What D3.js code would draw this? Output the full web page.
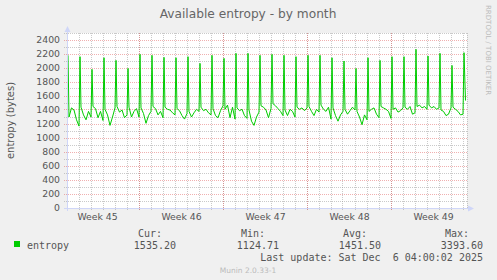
<!DOCTYPE html>
<html>
<head>
<meta charset="utf-8">
<script src="https://cdn.jsdelivr.net/npm/d3@7"></script>
<style>
body { margin: 0; background: #f0f0f0; }
svg { display: block; }
text { font-family: "DejaVu Sans", sans-serif; fill: #555; }
.mono { font-family: "DejaVu Sans Mono", monospace; white-space: pre; }
</style>
</head>
<body>
<div id="grafico"></div>
<script>
// Datos (entropia disponible, un pico diario + valores base)
var spikes = [2181, 2162, 1980, 2147, 2109, 1994, 2195, 2181, 2152, 2147, 2162, 2066,
              2181, 2138, 2209, 2209, 2181, 2195, 2181, 2162, 2181, 2181, 2147, 2100,
              1994, 2147, 2109, 2162, 2162, 2267, 2171, 2209, 2037, 2219];

// valores a las 4h, 9h, 14h, 19h y 24h de cada dia
var baseline = [
    [1300, 1430, 1400, 1260, 1170], [1440, 1330, 1260, 1380, 1300], [1450, 1420, 1290, 1380, 1250],
    [1410, 1330, 1180, 1300, 1430], [1450, 1370, 1400, 1290, 1330], [1440, 1300, 1380, 1420, 1300],
    [1430, 1350, 1210, 1320, 1380], [1450, 1420, 1330, 1380, 1290], [1440, 1410, 1400, 1360, 1330],
    [1420, 1390, 1320, 1270, 1350], [1380, 1300, 1360, 1410, 1380], [1440, 1390, 1410, 1360, 1330],
    [1420, 1320, 1290, 1390, 1460], [1410, 1470, 1290, 1440, 1270], [1430, 1390, 1410, 1320, 1280],
    [1400, 1240, 1180, 1300, 1370], [1460, 1440, 1400, 1290, 1420], [1490, 1460, 1420, 1380, 1320],
    [1400, 1320, 1410, 1380, 1300], [1440, 1410, 1430, 1390, 1430], [1450, 1380, 1320, 1410, 1370],
    [1470, 1410, 1380, 1440, 1270], [1430, 1320, 1240, 1330, 1380], [1410, 1340, 1390, 1440, 1400],
    [1380, 1300, 1190, 1330, 1260], [1380, 1410, 1430, 1340, 1290], [1450, 1430, 1410, 1380, 1280],
    [1410, 1430, 1370, 1390, 1430], [1440, 1410, 1450, 1340, 1360], [1450, 1470, 1430, 1450, 1410],
    [1470, 1430, 1450, 1410, 1430], [1400, 1380, 1320, 1340, 1430], [1440, 1410, 1380, 1330, 1340]
];
var baseHours = [4, 9, 14, 19, 24];
var lastValue = 1535.2;

var yTicks = [0, 200, 400, 600, 800, 1000, 1200, 1400, 1600, 1800, 2000, 2200, 2400];
var statLabels = ["Cur:", "Min:", "Avg:", "Max:"];
var statValues = ["1535.20", "1124.71", "1451.50", "3393.60"];
var seriesName = "entropy";
var lastUpdate = "Last update: Sat Dec  6 04:00:02 2025";

var width = 497, height = 280;
var pLeft = 67, pRight = 467, pTop = 33, pBottom = 208;

var start = new Date(Date.UTC(2025, 10, 4));
var end = new Date(+start + 400 / 12 * 864e5);

var x = d3.scaleUtc().domain([start, end]).range([pLeft, pRight]);
var y = d3.scaleLinear().domain([0, 2500]).range([pBottom, pTop]);

var gridGris = "rgba(150,150,150,0.5)";
var gridRojo = "rgba(222,79,79,0.45)";

function px(v) { return Math.floor(v) + 0.5; }

// Construir la serie
var serie = [];
spikes.forEach(function(s, k) {
    var dia = d3.utcDay.offset(start, k);
    serie.push({ t: d3.utcHour.offset(dia, 2), v: s });
    if (k < baseline.length) {
        baseHours.forEach(function(h, i) {
            serie.push({ t: d3.utcHour.offset(dia, h), v: baseline[k][i] });
        });
    }
});
serie.push({ t: d3.utcHour.offset(d3.utcDay.offset(start, spikes.length - 1), 5), v: lastValue });

var svg = d3.select("#grafico")
    .append("svg")
    .attr("width", width)
    .attr("height", height);

svg.append("rect")
    .attr("x", pLeft).attr("y", pTop)
    .attr("width", pRight - pLeft).attr("height", pBottom - pTop)
    .attr("fill", "#fff");

var grid = svg.append("g").attr("shape-rendering", "crispEdges");

// Rejilla menor horizontal (cada 100)
grid.selectAll(".hmin")
    .data(d3.range(100, 2501, 100).filter(function(v) { return v % 200 !== 0; }))
    .enter().append("line")
    .attr("x1", pLeft - 3).attr("x2", pRight)
    .attr("y1", function(d) { return px(y(d)); })
    .attr("y2", function(d) { return px(y(d)); })
    .attr("stroke", gridGris)
    .attr("stroke-dasharray", "1,1");

// Rejilla menor vertical (cada dia)
var dias = d3.utcDay.range(d3.utcDay.offset(start, 1), end);
grid.selectAll(".vmin")
    .data(dias)
    .enter().append("line")
    .attr("x1", function(d) { return px(x(d)); })
    .attr("x2", function(d) { return px(x(d)); })
    .attr("y1", pTop).attr("y2", pBottom + 3)
    .attr("stroke", gridGris)
    .attr("stroke-dasharray", "1,1");

grid.append("line")
    .attr("x1", px(pRight)).attr("x2", px(pRight))
    .attr("y1", pTop).attr("y2", pBottom)
    .attr("stroke", gridGris)
    .attr("stroke-dasharray", "1,1");

// Rejilla mayor horizontal
grid.selectAll(".hmaj")
    .data(yTicks.filter(function(v) { return v > 0; }))
    .enter().append("line")
    .attr("x1", pLeft - 3).attr("x2", pRight)
    .attr("y1", function(d) { return px(y(d)); })
    .attr("y2", function(d) { return px(y(d)); })
    .attr("stroke", gridRojo)
    .attr("stroke-dasharray", "1,1");

// Rejilla mayor vertical (lunes)
grid.selectAll(".vmaj")
    .data(d3.utcMonday.range(start, end))
    .enter().append("line")
    .attr("x1", function(d) { return px(x(d)); })
    .attr("x2", function(d) { return px(x(d)); })
    .attr("y1", pTop).attr("y2", pBottom + 3)
    .attr("stroke", gridRojo)
    .attr("stroke-dasharray", "1,1");

// Linea de datos
var linea = d3.line()
    .x(function(d) { return x(d.t); })
    .y(function(d) { return y(d.v); });

svg.append("path")
    .datum(serie)
    .attr("d", linea)
    .attr("fill", "none")
    .attr("stroke", "#00cc00")
    .attr("stroke-width", 1);

// Ejes con flechas
var ejes = svg.append("g").attr("shape-rendering", "crispEdges");
ejes.append("line")
    .attr("x1", px(pLeft)).attr("x2", px(pLeft))
    .attr("y1", pBottom + 3).attr("y2", pTop - 4)
    .attr("stroke", "#cfd6f8");
ejes.append("line")
    .attr("x1", pLeft - 3).attr("x2", pRight + 3)
    .attr("y1", px(y(0))).attr("y2", px(y(0)))
    .attr("stroke", "#cfd6f8");
svg.append("path")
    .attr("d", "M" + (px(pLeft) - 3) + "," + (pTop - 1) + "L" + (px(pLeft) + 3) + "," + (pTop - 1) + "L" + px(pLeft) + "," + (pTop - 7) + "Z")
    .attr("fill", "#cfd6f8");
svg.append("path")
    .attr("d", "M" + (pRight + 1) + "," + (px(y(0)) - 3) + "L" + (pRight + 1) + "," + (px(y(0)) + 3) + "L" + (pRight + 7) + "," + px(y(0)) + "Z")
    .attr("fill", "#cfd6f8");

// Etiquetas del eje Y
var ejeY = d3.axisLeft(y).tickValues(yTicks).tickFormat(d3.format("d")).tickSize(0).tickPadding(7);
svg.append("g")
    .attr("transform", "translate(" + pLeft + ",0)")
    .call(ejeY)
    .call(function(g) { g.select(".domain").remove(); })
    .selectAll("text")
    .attr("font-family", "DejaVu Sans")
    .attr("font-size", 9.3)
    .attr("fill", "#555");

// Etiquetas del eje X (semanas, centradas a mitad de semana)
var mitades = d3.utcMonday.range(d3.utcMonday.floor(start), end).map(function(d) {
    return d3.utcHour.offset(d, 84);
});
var ejeX = d3.axisBottom(x).tickValues(mitades).tickFormat(d3.utcFormat("Week %V")).tickSize(0).tickPadding(5);
svg.append("g")
    .attr("transform", "translate(0," + pBottom + ")")
    .call(ejeX)
    .call(function(g) { g.select(".domain").remove(); })
    .selectAll("text")
    .attr("font-family", "DejaVu Sans")
    .attr("font-size", 9.3)
    .attr("fill", "#555");

// Titulo
svg.append("text")
    .attr("x", 248).attr("y", 18)
    .attr("text-anchor", "middle")
    .attr("font-size", 12.2)
    .style("fill", "#666")
    .text("Available entropy - by month");

// Titulo eje Y
svg.append("text")
    .attr("transform", "translate(14," + ((pTop + pBottom) / 2) + ") rotate(-90)")
    .attr("text-anchor", "middle")
    .attr("font-size", 10)
    .text("entropy (bytes)");

// Marca de agua
svg.append("text")
    .attr("transform", "translate(485.5,5) rotate(90)")
    .attr("font-size", 7)
    .style("fill", "#bbb")
    .text("RRDTOOL / TOBI OETIKER");

// Leyenda
svg.append("rect")
    .attr("x", 14).attr("y", 241)
    .attr("width", 6).attr("height", 6)
    .attr("fill", "#00cc00");
svg.append("text")
    .attr("class", "mono")
    .attr("x", 27).attr("y", 249)
    .attr("font-size", 10)
    .text(seriesName);

var colsLabel = [162, 265, 367, 469];
var colsValue = [176, 279, 381, 483];
statLabels.forEach(function(l, i) {
    svg.append("text")
        .attr("class", "mono")
        .attr("x", colsLabel[i]).attr("y", 237)
        .attr("text-anchor", "end")
        .attr("font-size", 10)
        .text(l);
    svg.append("text")
        .attr("class", "mono")
        .attr("x", colsValue[i]).attr("y", 249)
        .attr("text-anchor", "end")
        .attr("font-size", 10)
        .text(statValues[i]);
});
svg.append("text")
    .attr("class", "mono")
    .attr("x", 483).attr("y", 261)
    .attr("text-anchor", "end")
    .attr("font-size", 10)
    .text(lastUpdate);

svg.append("text")
    .attr("x", 248).attr("y", 272.5)
    .attr("text-anchor", "middle")
    .attr("font-size", 7.5)
    .style("fill", "#bbb")
    .text("Munin 2.0.33-1");
</script>
</body>
</html>
